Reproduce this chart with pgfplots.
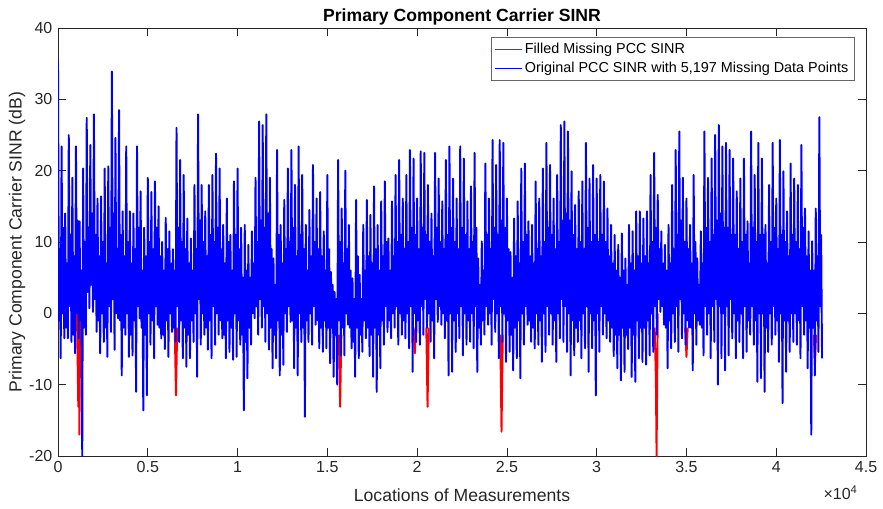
\documentclass[border=0pt]{standalone}
\usepackage{pgfplots}
\pgfplotsset{compat=1.18}
\usepackage{fontspec}
\setmainfont{Liberation Sans}
\begin{document}
\begin{tikzpicture}
\begin{axis}[
  at={(0,0)}, anchor=south west,
  scale only axis, width=505pt, height=267.5pt,
  xmin=0, xmax=45000, ymin=-20, ymax=40,
  xtick={0,5000,10000,15000,20000,25000,30000,35000,40000,45000},
  xticklabels={0,0.5,1,1.5,2,2.5,3,3.5,4,4.5},
  scaled x ticks=false,
  ytick={-20,-10,0,10,20,30,40},
  tick align=inside, major tick length=5pt,
  axis line style={black!85, line width=0.45pt},
  tick style={black!85, line width=0.45pt},
  ticklabel style={font=\fontsize{10}{12}\selectfont, text=black!85},
  /pgf/number format/assume math mode=true,
  xlabel={Locations of Measurements},
  ylabel={Primary Component Carrier SINR (dB)},
  x label style={font=\fontsize{11}{13}\selectfont, text=black!85, at={(axis description cs:0.5,0)}, anchor=center, yshift=-24.4pt},
  y label style={font=\fontsize{11}{13}\selectfont, text=black!85, at={(axis description cs:0,0.5)}, anchor=center, yshift=25.6pt},
  title={Primary Component Carrier SINR},
  title style={font=\fontsize{11}{13}\selectfont\bfseries, at={(axis description cs:0.5,1)}, anchor=center, yshift=0.6pt},
  legend style={at={(0.9864,0.979)}, anchor=north east, font=\fontsize{9}{10.8}\selectfont, draw=black!60, fill=white, line width=0.45pt, inner xsep=2pt, inner ysep=1.5pt, row sep=0pt, cells={anchor=west}},
  unbounded coords=jump,
]
\addplot[red, line width=1.2pt, line join=round, no markers,
  legend image code/.code={\path[fill=red, draw=none] (0pt,-0.3pt) rectangle (17pt,0.3pt);}] coordinates {
(1050,1) (1130,-13.1) (1160,-2) (1190,-17) (1240,0) (1250,nan)
(6500,-2) (6570,-11.5) (6640,-2) (6650,nan)
(15640,-3) (15712,-13.1) (15780,-3) (15790,nan)
(19800,-2) (19870,-5.6) (19940,-2) (19950,nan)
(20510,-2) (20581,-13.1) (20650,-2) (20660,nan)
(24630,-3) (24700,-16.6) (24770,-3) (24780,nan)
(33230,-2) (33296,-9.1) (33335,-20) (33400,0) (33410,nan)
(34930,-2) (35000,-6.1) (35070,-2) (35080,nan)
(42090,-3) (42155,-7.2) (42220,-3)
};
\addlegendentry{Filled Missing PCC SINR}
\addplot[blue, line width=1.2pt, line join=round, no markers,
  legend image code/.code={\path[fill=blue, draw=none] (0pt,-0.3pt) rectangle (17pt,0.3pt);}] coordinates {
(0,35.5) (50,-1) (100,9) (150,-6.3)
(200,23.4) (250,0) (300,12) (350,-3.5)
(400,14) (450,-2) (500,7) (550,-3.5)
(600,25) (650,1) (700,11) (750,-4)
(800,19) (850,-3) (900,8) (950,-5.6)
(1000,23.4) (1050,0) (1100,13) (1150,-3.5)
(1200,12.9) (1250,-1) (1300,6) (1350,-20)
(1400,20.3) (1450,-2) (1500,10) (1550,-3)
(1600,27.4) (1650,3) (1700,12) (1750,0.7)
(1800,23.6) (1850,4) (1900,14) (1950,0.2)
(2000,27.9) (2050,2) (2100,11) (2150,-2.6)
(2200,16.1) (2250,-1) (2300,8) (2350,-5.6)
(2400,16.4) (2450,0) (2500,10) (2550,-4)
(2600,20.3) (2650,-2) (2700,7) (2750,-6.1)
(2800,20.6) (2850,1) (2900,12) (2950,-2.6)
(3000,33.9) (3050,2) (3100,14) (3150,-5.1)
(3200,24.6) (3250,0) (3300,9) (3350,-0.7)
(3400,28.5) (3450,-1) (3500,11) (3550,-8.7)
(3600,14.3) (3650,-2) (3700,8) (3750,-3)
(3800,23.4) (3850,0) (3900,10) (3950,-6.1)
(4000,14.3) (4050,-3) (4100,7) (4150,-5.9)
(4200,14) (4250,-1) (4300,9) (4350,-11)
(4400,23.4) (4450,1) (4500,12) (4550,-0.7)
(4600,17.1) (4650,-2) (4700,6) (4750,-13.6)
(4800,12) (4850,-3) (4900,8) (4950,-11.5)
(5000,19) (5050,0) (5100,10) (5150,-4.4)
(5200,17) (5250,-1) (5300,9) (5350,-6.3)
(5400,18.5) (5450,1) (5500,12) (5550,-1.6)
(5600,15) (5650,-2) (5700,8) (5750,-3.5)
(5800,10) (5850,-3) (5900,6) (5950,-5)
(6000,13.4) (6050,-1) (6100,9) (6150,-6.1)
(6200,11.5) (6250,0) (6300,7) (6350,-2.6)
(6400,9) (6450,-2) (6500,6) (6550,-4)
(6600,26) (6650,1) (6700,12) (6750,-4)
(6800,21.5) (6850,-1) (6900,10) (6950,-6.3)
(7000,19.4) (7050,-2) (7100,9) (7150,-7.5)
(7200,13.3) (7250,-3) (7300,7) (7350,-6.3)
(7400,10.5) (7450,-1) (7500,6) (7550,-4)
(7600,18) (7650,0) (7700,9) (7750,-8.9)
(7800,27.9) (7850,2) (7900,13) (7950,-4.4)
(8000,18) (8050,0) (8100,10) (8150,-3)
(8200,14.3) (8250,-2) (8300,8) (8350,-5.1)
(8400,18) (8450,-1) (8500,11) (8550,-6.3)
(8600,19.4) (8650,1) (8700,10) (8750,-4.4)
(8800,22.4) (8850,0) (8900,12) (8950,-3)
(9000,20.3) (9050,-1) (9100,9) (9150,-3.5)
(9200,12.4) (9250,-3) (9300,7) (9350,-6.3)
(9400,16.1) (9450,-1) (9500,10) (9550,-5.4)
(9600,11) (9650,-2) (9700,6) (9750,-6.5)
(9800,18.5) (9850,0) (9900,11) (9950,-6.1)
(10000,20.3) (10050,-1) (10100,9) (10150,-4.4)
(10200,12) (10250,-3) (10300,5) (10350,-13.6)
(10400,12.4) (10450,-4) (10500,6) (10550,-9.1)
(10600,9.6) (10650,-2) (10700,5) (10750,-4.4)
(10800,11.5) (10850,0) (10900,7) (10950,-0.7)
(11000,19) (11050,1) (11100,10) (11150,-3)
(11200,26.9) (11250,2) (11300,13) (11350,-2)
(11400,26.4) (11450,1) (11500,12) (11550,-4)
(11600,27.9) (11650,0) (11700,14) (11750,-5.1)
(11800,19) (11850,-2) (11900,9) (11950,-7.7)
(12000,7.7) (12050,-3) (12100,4) (12150,-6.3)
(12200,22.9) (12250,-1) (12300,11) (12350,-8.7)
(12400,12.4) (12450,-3) (12500,7) (12550,-7.2)
(12600,15.9) (12650,0) (12700,9) (12750,-2.6)
(12800,20.3) (12850,1) (12900,10) (12950,-1.2)
(13000,22.9) (13050,-1) (13100,12) (13150,-7.7)
(13200,18) (13250,-2) (13300,8) (13350,-8.7)
(13400,23.4) (13450,0) (13500,11) (13550,-4)
(13600,19.4) (13650,-2) (13700,9) (13750,-14.5)
(13800,12.4) (13850,-1) (13900,6) (13950,-4)
(14000,14.5) (14050,0) (14100,8) (14150,-4.4)
(14200,20.8) (14250,1) (14300,10) (14350,-1.6)
(14400,16.1) (14450,-1) (14500,9) (14550,-4.9)
(14600,17) (14650,-2) (14700,8) (14750,-5.4)
(14800,11.5) (14850,-1) (14900,6) (14950,-4.9)
(15000,19.4) (15050,-2) (15100,9) (15150,-7)
(15200,5.8) (15250,-2) (15300,4) (15350,-8.9)
(15400,3) (15450,-3) (15500,2) (15550,-10)
(15600,21.5) (15650,-1) (15700,10) (15750,-5.9)
(15800,14.7) (15850,-2) (15900,7) (15950,-5.9)
(16000,20) (16050,0) (16100,9) (16150,-1.6)
(16200,12.4) (16250,-2) (16300,6) (16350,-4.9)
(16400,4.9) (16450,-4) (16500,2) (16550,-8.9)
(16600,15.9) (16650,-2) (16700,8) (16750,-6.3)
(16800,5.4) (16850,-3) (16900,2) (16950,-5.4)
(17000,12.4) (17050,-1) (17100,6) (17150,-3.5)
(17200,15.9) (17250,-2) (17300,8) (17350,-6)
(17400,13.8) (17450,-3) (17500,7) (17550,-8.9)
(17600,17.8) (17650,-2) (17700,9) (17750,-11)
(17800,12.4) (17850,-3) (17900,6) (17950,-7.7)
(18000,15.7) (18050,-1) (18100,8) (18150,-4.4)
(18200,18.5) (18250,1) (18300,10) (18350,-2.6)
(18400,10.5) (18450,-1) (18500,6) (18550,-3.5)
(18600,15.7) (18650,0) (18700,8) (18750,-2)
(18800,19.4) (18850,1) (18900,10) (18950,-4.4)
(19000,21.5) (19050,0) (19100,11) (19150,-3)
(19200,16.1) (19250,-1) (19300,9) (19350,-3.5)
(19400,19.4) (19450,0) (19500,10) (19550,-4.9)
(19600,22.9) (19650,1) (19700,12) (19750,-8.2)
(19800,21.7) (19850,0) (19900,11) (19950,-4)
(20000,16.1) (20050,-1) (20100,9) (20150,-4.4)
(20200,22.7) (20250,1) (20300,12) (20350,-3)
(20400,22.5) (20450,2) (20500,11) (20550,-2)
(20600,18) (20650,0) (20700,10) (20750,-4)
(20800,14) (20850,-1) (20900,8) (20950,-6.3)
(21000,22.5) (21050,2) (21100,12) (21150,-1.2)
(21200,18.9) (21250,1) (21300,10) (21350,-1.6)
(21400,15.7) (21450,0) (21500,9) (21550,-3.5)
(21600,21.5) (21650,-1) (21700,11) (21750,-8.7)
(21800,23.4) (21850,0) (21900,12) (21950,-8.2)
(22000,18.9) (22050,-1) (22100,10) (22150,-5.4)
(22200,16.1) (22250,0) (22300,9) (22350,-3.5)
(22400,23.4) (22450,1) (22500,12) (22550,-5.9)
(22600,21.7) (22650,0) (22700,11) (22750,-4.4)
(22800,15.7) (22850,-1) (22900,9) (22950,-4)
(23000,17.8) (23050,0) (23100,10) (23150,-4.9)
(23200,22.5) (23250,1) (23300,12) (23350,-8.2)
(23400,7.7) (23450,-2) (23500,4) (23550,-4.4)
(23600,10.1) (23650,-1) (23700,6) (23750,-3)
(23800,21) (23850,1) (23900,11) (23950,-1.6)
(24000,16.1) (24050,0) (24100,9) (24150,-4.4)
(24200,24.3) (24250,2) (24300,12) (24350,-2.6)
(24400,20.8) (24450,0) (24500,11) (24550,-6.3)
(24600,24.3) (24650,1) (24700,13) (24750,-4)
(24800,23.9) (24850,0) (24900,12) (24950,-6.8)
(25000,16.1) (25050,-1) (25100,9) (25150,-5.4)
(25200,8.6) (25250,-3) (25300,5) (25350,-8)
(25400,13.3) (25450,-2) (25500,8) (25550,-6.3)
(25600,15.7) (25650,-1) (25700,7) (25750,-9.1)
(25800,20.3) (25850,0) (25900,10) (25950,-4.4)
(26000,21) (26050,1) (26100,11) (26150,-1.6)
(26200,12.9) (26250,-1) (26300,8) (26350,-4)
(26400,12.4) (26450,-2) (26500,7) (26550,-4.9)
(26600,18.5) (26650,0) (26700,9) (26750,-4.4)
(26800,16.1) (26850,-1) (26900,8) (26950,-6.8)
(27000,20.3) (27050,0) (27100,10) (27150,-5.4)
(27200,23.9) (27250,1) (27300,12) (27350,-3)
(27400,20.8) (27450,0) (27500,11) (27550,-4.4)
(27600,16.1) (27650,-1) (27700,9) (27750,-6.8)
(27800,19.4) (27850,0) (27900,10) (27950,-3.5)
(28000,26.4) (28050,2) (28100,13) (28150,-4)
(28200,26.9) (28250,1) (28300,14) (28350,-5.4)
(28400,25.5) (28450,0) (28500,13) (28550,-8.7)
(28600,19.9) (28650,-1) (28700,11) (28750,-5.9)
(28800,15.2) (28850,-2) (28900,9) (28950,-4)
(29000,17.1) (29050,-1) (29100,10) (29150,-6.3)
(29200,18.5) (29250,0) (29300,9) (29350,-4.9)
(29400,23.9) (29450,1) (29500,12) (29550,-8.2)
(29600,18.9) (29650,0) (29700,10) (29750,-4.9)
(29800,20.8) (29850,-1) (29900,11) (29950,-11.5)
(30000,18.9) (30050,0) (30100,10) (30150,-5.4)
(30200,19.4) (30250,1) (30300,11) (30350,-3)
(30400,18.5) (30450,0) (30500,10) (30550,-3.5)
(30600,14.7) (30650,-1) (30700,8) (30750,-4)
(30800,12.4) (30850,-2) (30900,7) (30950,-6)
(31000,11) (31050,-3) (31100,6) (31150,-7.7)
(31200,9.6) (31250,-3) (31300,5) (31350,-9.4)
(31400,11.2) (31450,-2) (31500,6) (31550,-8.2)
(31600,7.7) (31650,-3) (31700,4) (31750,-5)
(31800,12.4) (31850,-2) (31900,7) (31950,-8.9)
(32000,11.5) (32050,-3) (32100,6) (32150,-9.6)
(32200,14.3) (32250,-1) (32300,8) (32350,-6.3)
(32400,14.3) (32450,-2) (32500,7) (32550,-6.8)
(32600,13.3) (32650,-2) (32700,8) (32750,-7.2)
(32800,14.3) (32850,-1) (32900,7) (32950,-5.9)
(33000,19.4) (33050,0) (33100,10) (33150,-5.4)
(33200,22.5) (33250,1) (33300,12) (33350,-3)
(33400,16.6) (33450,2) (33500,9) (33550,0.2)
(33600,11.5) (33650,1) (33700,7) (33750,-1.6)
(33800,9.6) (33850,-2) (33900,6) (33950,-7.7)
(34000,12.4) (34050,-1) (34100,7) (34150,-4.9)
(34200,18) (34250,0) (34300,9) (34350,-4)
(34400,22.9) (34450,1) (34500,11) (34550,-5.4)
(34600,25.5) (34650,2) (34700,13) (34750,-3.5)
(34800,19) (34850,0) (34900,10) (34950,-4.4)
(35000,16.1) (35050,-1) (35100,9) (35150,-2)
(35200,12.4) (35250,-2) (35300,7) (35350,-8)
(35400,19.4) (35450,0) (35500,10) (35550,-4.4)
(35600,7.7) (35650,-1) (35700,4) (35750,-1.6)
(35800,11.5) (35850,-2) (35900,7) (35950,-5.9)
(36000,25.5) (36050,1) (36100,12) (36150,-3)
(36200,19) (36250,0) (36300,10) (36350,-6.3)
(36400,21.7) (36450,1) (36500,11) (36550,-4)
(36600,25) (36650,2) (36700,13) (36750,-10)
(36800,26.4) (36850,1) (36900,14) (36950,-6.3)
(37000,23.4) (37050,0) (37100,12) (37150,-8)
(37200,23.9) (37250,1) (37300,12) (37350,-5.9)
(37400,22.9) (37450,2) (37500,11) (37550,-3.5)
(37600,21.7) (37650,0) (37700,11) (37750,-6.3)
(37800,17.1) (37850,-1) (37900,9) (37950,-4)
(38000,18.9) (38050,0) (38100,10) (38150,-6.3)
(38200,21.7) (38250,1) (38300,11) (38350,-5.4)
(38400,12.9) (38450,-1) (38500,7) (38550,-3)
(38600,25.5) (38650,1) (38700,12) (38750,-4.4)
(38800,19.4) (38850,-1) (38900,10) (38950,-9.6)
(39000,23.9) (39050,0) (39100,11) (39150,-9.1)
(39200,21.7) (39250,0) (39300,11) (39350,-11)
(39400,12.4) (39450,-2) (39500,7) (39550,-5.4)
(39600,18) (39650,0) (39700,10) (39750,-4.4)
(39800,23.9) (39850,1) (39900,12) (39950,-3)
(40000,16.1) (40050,-1) (40100,9) (40150,-6.8)
(40200,24.3) (40250,0) (40300,11) (40350,-12.6)
(40400,19.9) (40450,-1) (40500,10) (40550,-8.2)
(40600,14.3) (40650,-1) (40700,8) (40750,-5.4)
(40800,21) (40850,0) (40900,11) (40950,-4)
(41000,18.9) (41050,0) (41100,10) (41150,-4.4)
(41200,18) (41250,-1) (41300,9) (41350,-6.3)
(41400,23.6) (41450,1) (41500,12) (41550,-3)
(41600,14.7) (41650,-1) (41700,8) (41750,-7.7)
(41800,11.5) (41850,-2) (41900,6) (41950,-17)
(42000,10.1) (42050,-2) (42100,6) (42150,-8.7)
(42200,14.7) (42250,-1) (42300,8) (42350,-5.4)
(42400,27.5) (42450,1) (42500,11) (42550,-6.3)
};
\addlegendentry{Original PCC SINR with 5,197 Missing Data Points}
\end{axis}
\node[anchor=east, font=\fontsize{10}{12}\selectfont, text=black!85, inner sep=0pt] at (500pt,-23pt) {×10\textsuperscript{4}};
\pgfresetboundingbox
\useasboundingbox (-36.25pt,-33.1pt) rectangle (515.6pt,285pt);
\end{tikzpicture}
\end{document}
